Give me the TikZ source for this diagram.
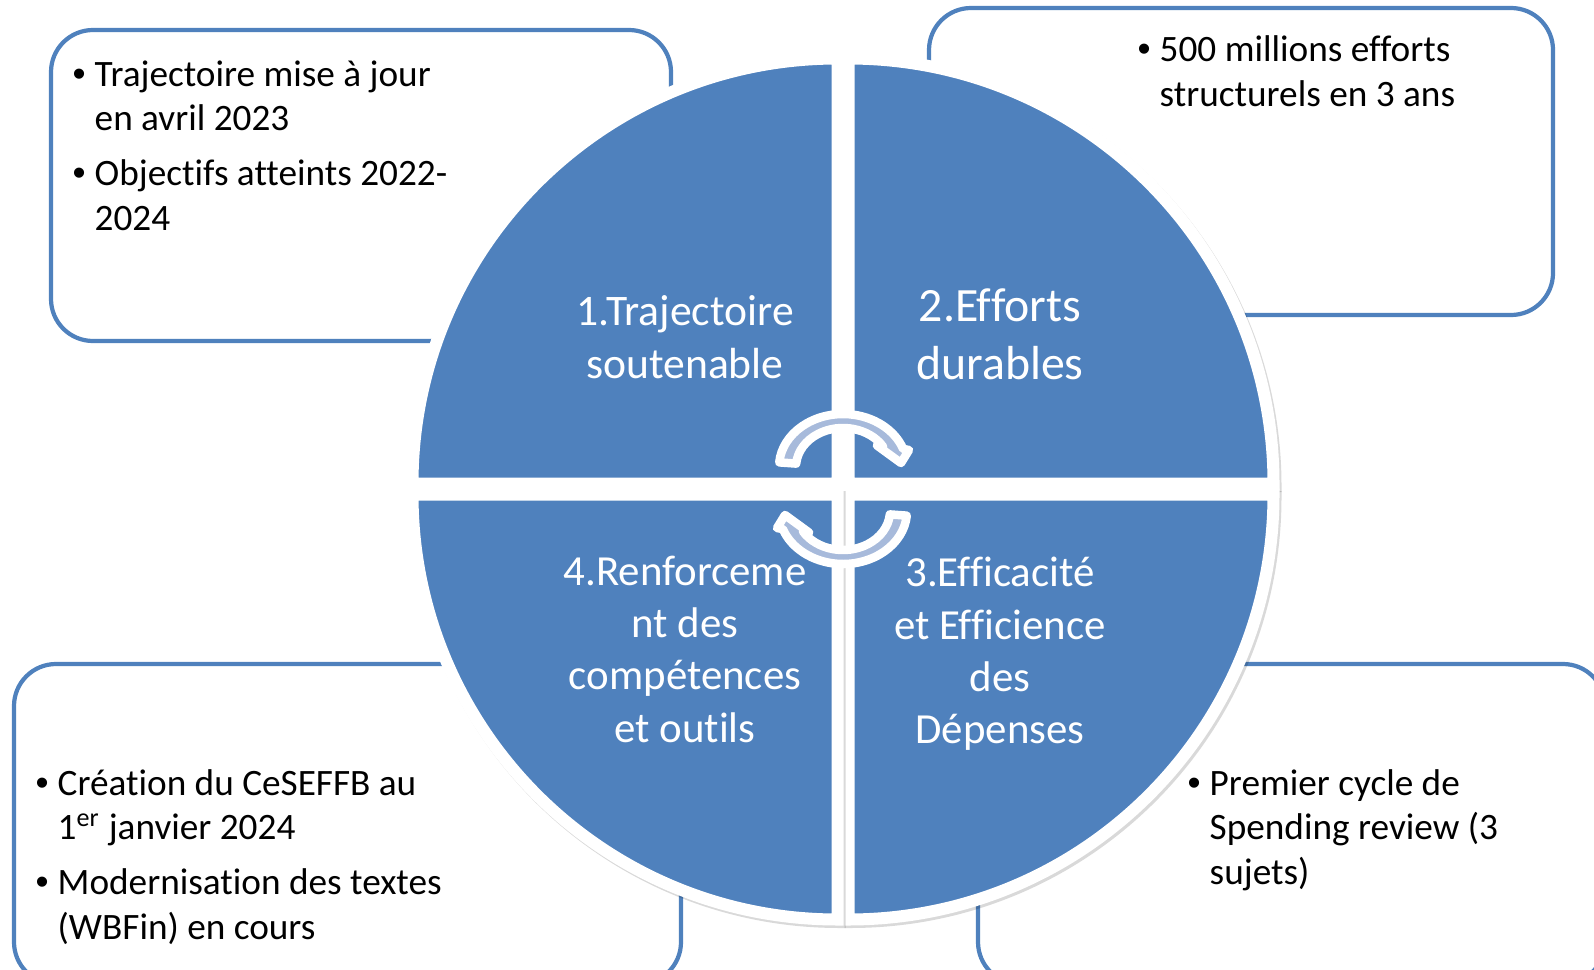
\documentclass[tikz,border=0pt]{standalone}
\usepackage{fontspec}
\setmainfont{Carlito}[Ligatures=NoCommon]
\newfontfamily\bulletfont{Liberation Sans}
\usetikzlibrary{calc}
\definecolor{accentblue}{RGB}{79,129,189}
\definecolor{accentlight}{RGB}{167,186,219}
\newcommand{\Bul}{\makebox[0.2cm][l]{\hspace{-0.02cm}{\bulletfont •}}}
\newcommand{\Quadrant}[2]{%
  \filldraw[quadshadow] ($(#1)+(0.02,-0.025)$) -- ++(#2:4.25)
    arc[start angle=#2, end angle=#2-90, radius=4.25] -- cycle;
  \filldraw[quadrant] (#1) -- ++(#2:4.25)
    arc[start angle=#2, end angle=#2-90, radius=4.25] -- cycle;
}
\tikzset{
    infobox/.style={draw=accentblue, line width=1.2pt, rounded corners=0.42cm, fill=white},
    quadrant/.style={fill=accentblue, draw=white, line width=0.12cm},
    quadshadow/.style={fill=black, draw=black, line width=0.12cm, opacity=0.15},
    quadlabel/.style={text=white, align=center, inner sep=0pt},
    itemtext/.style={anchor=base west, inner sep=0pt, font=\fontsize{10.6}{12.8}\selectfont},
    arrowband/.style={fill=accentlight, draw=white, line width=0.085cm, line join=round},
    cyclearrow/.pic={
    \filldraw[arrowband] (175:0.47 and 0.39) -- (175:0.64 and 0.53)
      arc[start angle=175, end angle=19.9, x radius=0.64, y radius=0.53]
      -- (0.66,0.17) -- (0.58,0.04) -- (0.34,0.215) -- (31.7:0.47 and 0.39)
      arc[start angle=31.7, end angle=175, x radius=0.47, y radius=0.39] -- cycle;
    },
}

\begin{document}
\begin{tikzpicture}
    \useasboundingbox (0,0) rectangle (15.94,9.69);

    % text boxes
    \draw[infobox] (0.51,6.28) rectangle (6.71,9.39);
    \draw[infobox] (9.29,6.54) rectangle (15.53,9.61);
    \draw[infobox] (0.14,-0.15) rectangle (6.81,3.05);
    \draw[infobox] (9.78,-0.15) rectangle (16.05,3.05);

    % the four quadrants
    \coordinate (c) at (8.43,4.80);
    \coordinate (ctl) at ($(c)+(-0.055,0.055)$);
    \coordinate (ctr) at ($(c)+(0.055,0.055)$);
    \coordinate (cbr) at ($(c)+(0.055,-0.055)$);
    \coordinate (cbl) at ($(c)+(-0.055,-0.055)$);
    \Quadrant{ctl}{180}
    \Quadrant{ctr}{90}
    \Quadrant{cbr}{0}
    \Quadrant{cbl}{-90}

    % cycle arrows
    \pic at ($(c)+(0,0.22)$) {cyclearrow};
    \pic[rotate=180] at ($(c)+(0,-0.22)$) {cyclearrow};

    \node[quadlabel, font=\fontsize{12.4}{15}\selectfont] (q1) at (6.85,6.32) {1.Trajectoire\\soutenable};
    \node[quadlabel, font=\fontsize{13.6}{16.5}\selectfont] (q2) at (10.0,6.35) {2.Efforts\\durables};
    \node[quadlabel, font=\fontsize{12.2}{14.9}\selectfont] (q3) at (10.0,3.15) {3.Efficacité\\et Efficience\\des\\Dépenses};
    \node[quadlabel, font=\fontsize{12.2}{14.9}\selectfont] (q4) at (6.85,3.20) {4.Renforceme\\nt des\\compétences\\et outils};

    % bullet texts
    \node[itemtext] (t1) at (0.74,8.83) {\begin{tabular}[t]{@{}l@{}l@{}}
      \Bul & Trajectoire mise à jour\\ & en avril 2023\\[2.6pt]
      \Bul & Objectifs atteints 2022-\\ & 2024
    \end{tabular}};
    \node[itemtext] (t2) at (11.39,9.07) {\begin{tabular}[t]{@{}l@{}l@{}}
      \Bul & 500 millions efforts\\ & structurels en 3 ans
    \end{tabular}};
    \node[itemtext] (t3) at (0.37,1.74) {\begin{tabular}[t]{@{}l@{}l@{}}
      \Bul & Création du CeSEFFB au\\ & 1\textsuperscript{er} janvier 2024\\[2.6pt]
      \Bul & Modernisation des textes\\ & (WBFin) en cours
    \end{tabular}};
    \node[itemtext] (t4) at (11.89,1.74) {\begin{tabular}[t]{@{}l@{}l@{}}
      \Bul & Premier cycle de\\ & Spending review (3\\ & sujets)
    \end{tabular}};
\end{tikzpicture}
\end{document}
